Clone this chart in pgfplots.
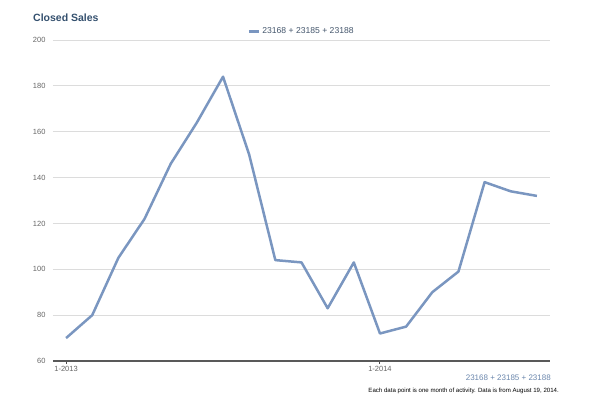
\documentclass[border=0pt]{standalone}
\usepackage{pgfplots}
\pgfplotsset{compat=1.18}
\usepackage{fontspec}
\setmainfont{Liberation Sans}
\definecolor{lineblue}{HTML}{7A96C0}
\definecolor{titleblue}{HTML}{34506E}
\definecolor{ticklab}{HTML}{666666}
\definecolor{gridc}{HTML}{DCDCDC}
\definecolor{subblue}{HTML}{6A86AC}
\definecolor{legtext}{HTML}{44566C}
\begin{document}
\begin{tikzpicture}
\path[use as bounding box] (0pt,0pt) rectangle (600pt,399pt);
\node[anchor=west,font=\bfseries\fontsize{10.5}{12}\selectfont,text=titleblue,inner sep=0] at (33pt,381pt) {Closed Sales};
\begin{axis}[
  at={(53pt,38pt)}, anchor=south west,
  scale only axis, width=497pt, height=321pt,
  xmin=-0.5, xmax=18.5, ymin=60, ymax=200,
  ytick={60,80,...,200},
  xtick={0,12}, xticklabels={1-2013,1-2014},
  ymajorgrids, grid style={gridc, line width=0.8pt},
  axis x line*=bottom, axis y line*=left,
  y axis line style={draw=none},
  x axis line style={draw=black!65, line width=1.6pt, -},
  ytick style={draw=none},
  xtick style={draw=black!70, line width=1pt},
  tick align=outside, major tick length=3pt,
  tick label style={font=\fontsize{7.5}{9}\selectfont, text=ticklab},
  yticklabel style={xshift=-1pt},
  xticklabel style={yshift=1pt},
  /pgf/number format/assume math mode=true,
  legend style={at={(0.5,1.0)}, anchor=south, yshift=1pt, draw=none, fill=none,
    font=\fontsize{8.6}{10}\selectfont, text=legtext},
  legend image code/.code={\draw[#1, line width=3pt] (0pt,0pt) -- (10pt,0pt);},
  legend cell align=left,
]
\addplot[lineblue, line width=2.5pt, line join=round] coordinates {
(0,70) (1,80) (2,105) (3,122) (4,146) (5,164) (6,184) (7,150) (8,104) (9,103)
(10,83) (11,103) (12,72) (13,75) (14,90) (15,99) (16,138) (17,134) (18,132)};
\addlegendentry{23168 + 23185 + 23188}
\end{axis}
\node[anchor=east,font=\fontsize{8}{9}\selectfont,text=subblue,inner sep=0] at (551pt,21pt) {23168 + 23185 + 23188};
\node[anchor=east,font=\fontsize{6.1}{7}\selectfont,inner sep=0] at (559pt,8pt) {Each data point is one month of activity. Data is from August 19, 2014.};
\end{tikzpicture}
\end{document}
